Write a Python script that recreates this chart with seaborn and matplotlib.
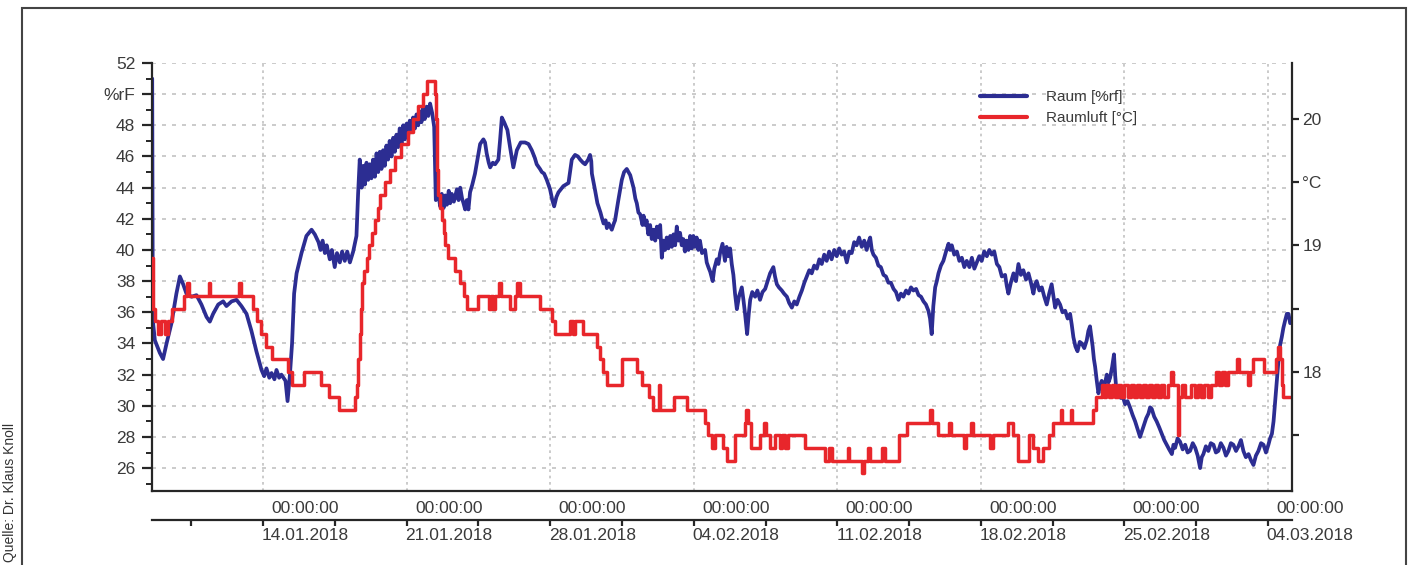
import pandas as pd
import matplotlib
matplotlib.use("Agg")
import matplotlib.pyplot as plt
import matplotlib.dates as mdates
from matplotlib.ticker import FixedLocator, FixedFormatter, MultipleLocator, NullFormatter
from matplotlib.transforms import ScaledTranslation
from matplotlib.patches import Rectangle
import seaborn as sns

# ---------------------------------------------------------------- data
ORIGIN = pd.Timestamp("2018-01-14 00:00")   # day offsets below are relative to this

rh_days = [
    -5.41, -5.38, -5.28, -5.04, -4.88, -4.71, -4.47, -4.23, -4.06, -3.90, -3.74, -3.49, -3.25,
    -3.01, -2.76, -2.60, -2.44, -2.19, -1.95, -1.79, -1.54, -1.30, -1.06, -0.81, -0.57, -0.33,
    -0.08, 0.05, 0.16, 0.30, 0.41, 0.55, 0.65, 0.78, 0.89, 1.09, 1.19, 1.30, 1.41, 1.51, 1.63,
    1.87, 2.11, 2.36, 2.52, 2.70, 2.80, 2.90, 3.01, 3.10, 3.25, 3.35, 3.49, 3.60, 3.74, 3.85,
    3.98, 4.10, 4.23, 4.39, 4.55, 4.63, 4.71, 4.80, 4.88, 4.96, 5.04, 5.12, 5.20, 5.28, 5.36,
    5.45, 5.53, 5.61, 5.69, 5.77, 5.85, 5.93, 6.01, 6.09, 6.17, 6.26, 6.34, 6.42, 6.50, 6.58,
    6.66, 6.75, 6.83, 6.91, 6.99, 7.07, 7.15, 7.23, 7.31, 7.40, 7.48, 7.56, 7.64, 7.72, 7.80,
    7.88, 7.97, 8.05, 8.14, 8.24, 8.34, 8.42,
    8.55, 8.63, 8.71, 8.80, 8.88, 8.96, 9.05, 9.12, 9.20, 9.30, 9.45, 9.53, 9.61, 9.70, 9.77,
    9.85, 9.93, 10.01, 10.09, 10.20, 10.33, 10.45, 10.58, 10.74, 10.82, 10.90, 11.00, 11.07,
    11.20, 11.31, 11.47, 11.55, 11.64, 11.75, 11.91, 12.04, 12.20, 12.37, 12.56, 12.77, 12.94,
    13.10, 13.25, 13.34, 13.50, 13.59, 13.70, 13.83, 13.99, 14.10, 14.19, 14.30, 14.40, 14.52,
    14.64, 14.89, 15.05, 15.21, 15.35, 15.46, 15.60, 15.70, 15.85, 15.94, 16.00, 16.03, 16.19,
    16.30, 16.35, 16.45, 16.51, 16.60, 16.70, 16.76, 16.85, 17.00, 17.10, 17.16, 17.32, 17.49,
    17.60, 17.73, 17.90, 18.06, 18.15, 18.22, 18.30, 18.38, 18.50, 18.55, 18.63, 18.70, 18.78,
    18.87, 18.95, 19.04, 19.12, 19.20, 19.30, 19.36, 19.44, 19.52, 19.60, 19.68, 19.76, 19.85,
    19.93, 20.01, 20.09, 20.17, 20.25, 20.33, 20.41, 20.49, 20.57, 20.65, 20.74, 20.82, 20.90,
    20.98, 21.06, 21.14, 21.22, 21.30, 21.40, 21.55, 21.63, 21.71, 21.80, 21.92, 22.00, 22.12,
    22.20, 22.28,
    22.40, 22.52, 22.60, 22.69, 22.77, 22.85, 22.93, 23.01, 23.10, 23.20, 23.34, 23.42, 23.50,
    23.60, 23.68, 23.75, 23.85, 23.99, 24.10, 24.23, 24.35, 24.48, 24.60, 24.72, 24.88, 24.96,
    25.05, 25.15, 25.29, 25.40, 25.54, 25.65, 25.78, 25.90, 26.02, 26.15, 26.27, 26.39, 26.51,
    26.63, 26.75, 26.87, 27.00, 27.12, 27.24, 27.36, 27.48, 27.60, 27.72, 27.85, 27.97, 28.09,
    28.21, 28.33, 28.46, 28.58, 28.70, 28.82, 28.94, 29.06, 29.19, 29.31, 29.43, 29.52, 29.60,
    29.68, 29.76, 29.88, 30.00, 30.12, 30.25, 30.37, 30.49, 30.61, 30.74, 30.86, 30.98, 31.10,
    31.22, 31.35, 31.47, 31.59, 31.71, 31.84, 31.96, 32.08, 32.20, 32.32, 32.44, 32.52, 32.60,
    32.68, 32.77, 32.85, 32.93, 33.05, 33.17, 33.30, 33.42, 33.50, 33.58, 33.70, 33.83, 33.95,
    34.07, 34.19, 34.31, 34.44, 34.56, 34.68, 34.80, 34.92, 35.04, 35.16, 35.29, 35.41, 35.53,
    35.65, 35.78, 35.90, 36.02,
    36.18, 36.26, 36.34, 36.46, 36.59, 36.71, 36.83, 36.95, 37.07, 37.20, 37.32, 37.44, 37.56,
    37.64, 37.72, 37.85, 37.97, 38.09, 38.21, 38.33, 38.45, 38.54, 38.62, 38.74, 38.86, 38.98,
    39.11, 39.23, 39.35, 39.43, 39.51, 39.61, 39.71, 39.82, 39.92, 40.04, 40.16, 40.24, 40.32,
    40.40, 40.45, 40.51, 40.57, 40.65, 40.73, 40.81, 40.89, 41.01, 41.14, 41.22, 41.30, 41.40,
    41.49, 41.55, 41.62, 41.72, 41.82, 41.92, 42.03, 42.15, 42.27, 42.40, 42.52, 42.64, 42.76,
    42.86, 42.96, 43.06, 43.17, 43.25, 43.33, 43.45, 43.57, 43.70, 43.82, 43.94, 44.06, 44.18,
    44.31, 44.39, 44.47, 44.59, 44.71, 44.84, 44.96, 45.08, 45.20, 45.33, 45.45, 45.57, 45.69,
    45.77, 45.85, 45.97, 46.09, 46.21, 46.34, 46.46, 46.58, 46.70, 46.83, 46.95, 47.07, 47.19,
    47.31, 47.44, 47.56, 47.68, 47.80, 47.92, 48.05, 48.17, 48.29, 48.41, 48.53, 48.66, 48.78,
    48.90, 49.02, 49.10, 49.19, 49.27, 49.35, 49.43, 49.51, 49.59, 49.67, 49.75, 49.84, 49.92,
    50.00, 50.08,
]
rh_values = [
    51.0, 35.5, 34.2, 33.4, 33.0, 34.0, 35.3, 37.2, 38.3, 37.8, 37.2, 37.0, 37.1,
    36.5, 35.7, 35.4, 35.9, 36.5, 36.7, 36.4, 36.7, 36.8, 36.4, 35.9, 34.8, 33.5,
    32.3, 31.9, 32.4, 31.8, 32.1, 31.7, 32.3, 31.8, 32.0, 31.6, 30.3, 31.9, 34.0, 37.2, 38.5,
    39.8, 40.9, 41.3, 41.0, 40.5, 40.0, 40.6, 39.8, 40.3, 39.4, 40.0, 38.9, 39.8, 39.2, 39.9,
    39.3, 39.9, 39.2, 39.9, 40.9, 43.6, 45.8, 44.0, 45.4, 44.2, 45.6, 44.5, 45.5, 44.6, 45.8,
    44.7, 46.2, 45.0, 46.3, 45.2, 46.4, 45.4, 46.7, 45.8, 47.0, 46.0, 47.2, 46.3, 47.4, 46.6,
    47.8, 46.8, 48.0, 47.1, 48.1, 47.3, 48.3, 47.6, 48.5, 47.8, 48.7, 48.0, 48.9, 48.2, 49.1,
    48.4, 49.2, 48.6, 49.4, 48.8, 47.9, 43.2,
    43.6, 42.8, 43.6, 42.7, 43.5, 42.9, 43.8, 43.0, 43.6, 43.1, 43.9, 43.2, 44.0, 43.3, 43.0,
    42.6, 43.2, 42.6, 43.7, 44.2, 44.9, 45.8, 46.8, 47.1, 46.9, 46.2, 45.6, 45.3,
    45.6, 45.5, 45.8, 47.0, 48.5, 48.2, 47.7, 46.6, 45.3, 46.4, 46.9, 46.9, 46.8,
    46.4, 45.9, 45.5, 45.2, 45.0, 44.9, 44.5, 43.9, 43.2, 42.8, 43.4, 43.7, 43.9,
    44.1, 44.3, 45.8, 46.1, 46.0, 45.8, 45.6, 45.5, 45.8, 46.1, 45.7, 44.9, 43.8,
    43.0, 42.8, 42.4, 42.1, 41.7, 41.9, 41.4, 41.7, 41.3, 41.7, 41.9, 43.2, 44.5,
    45.0, 45.2, 44.8, 44.0, 43.3, 43.0, 42.4, 42.3, 41.6, 42.2, 41.6, 41.9, 41.0,
    41.6, 40.7, 41.3, 40.6, 41.5, 40.8, 41.6, 39.5, 40.6, 40.0, 40.8, 40.1, 40.9,
    40.2, 41.0, 40.3, 41.5, 40.6, 41.1, 40.3, 40.7, 39.9, 40.6, 40.0, 40.9, 40.1,
    40.9, 40.2, 40.8, 40.0, 40.6, 39.8, 40.0, 39.2, 38.9, 38.6, 38.0, 38.8, 39.4,
    39.1, 39.8,
    40.4, 39.3, 40.2, 39.6, 40.1, 39.1, 38.4, 37.2, 36.2, 37.0, 37.6, 36.8, 35.9,
    34.6, 35.9, 36.8, 37.3, 37.0, 37.4, 36.8, 37.3, 37.5, 38.0, 38.5, 38.9, 38.3,
    37.8, 37.6, 37.4, 37.2, 37.0, 36.6, 36.3, 36.7, 36.5, 37.0, 37.4, 37.9, 38.3,
    38.7, 38.5, 39.0, 38.8, 39.4, 39.1, 39.7, 39.3, 39.9, 39.4, 40.0, 39.6, 40.1,
    39.7, 39.9, 39.2, 39.9, 39.8, 40.5, 40.3, 40.8, 40.2, 40.6, 40.0, 40.5, 40.8,
    40.0, 39.7, 39.5, 39.0, 38.9, 38.4, 38.3, 37.9, 37.9, 37.5, 37.3, 36.8, 37.2,
    37.0, 37.4, 37.2, 37.6, 37.4, 37.5, 37.1, 37.0, 36.7, 36.5, 36.1, 35.6, 34.6,
    36.4, 37.6, 38.0, 38.5, 39.0, 39.3, 39.9, 40.4, 40.0, 40.3, 39.7, 39.9, 39.3,
    39.5, 38.9, 39.3, 38.9, 39.5, 38.8, 39.2, 39.6, 39.3, 39.9, 39.6, 40.0, 39.7,
    39.9, 39.1, 38.9, 38.3,
    38.4, 37.7, 37.2, 37.9, 38.5, 38.0, 39.1, 38.4, 38.7, 38.1, 38.5, 37.9, 37.2,
    37.8, 38.0, 37.4, 37.6, 37.0, 36.5, 37.2, 37.8, 37.0, 36.3, 36.8, 36.5, 36.0,
    36.1, 35.6, 35.9, 35.2, 34.4, 33.8, 33.5, 34.1, 34.0, 33.7, 34.2, 34.8, 35.1,
    34.3, 33.8, 33.0, 32.5, 31.6, 30.8, 31.3, 31.6, 31.2, 32.0, 31.5, 31.8, 32.5,
    33.3, 31.9, 30.8, 30.9, 30.5, 30.6, 30.1, 30.3, 29.9, 29.4, 29.0, 28.5, 28.0,
    28.4, 28.8, 29.2, 29.5, 29.9, 29.8, 29.3, 29.0, 28.6, 28.2, 27.8, 27.5, 27.2,
    26.9, 27.5, 27.3, 27.9, 27.7, 27.2, 27.5, 27.0, 27.1, 27.6, 27.3, 26.8, 26.0,
    26.7, 26.9, 27.4, 27.1, 27.6, 27.5, 27.0, 27.1, 27.6, 27.3, 26.8, 27.1, 27.6,
    27.5, 27.1, 27.4, 27.8, 27.1, 26.7, 26.9, 26.5, 26.2, 26.8, 27.1, 27.6, 27.5,
    27.0, 27.5, 27.9, 28.2, 29.0, 30.3, 31.6, 32.9, 33.9, 34.4, 35.0, 35.5, 35.9,
    35.9, 35.3,
]

# room air temperature, logged in 0.1 degree steps (value holds until next entry)
temp_days = [
    -5.41, -5.36, -5.28, -5.12, -4.96, -4.80, -4.63, -4.45, -3.85, -3.72, -3.60, -2.66, -2.58,
    -1.16, -1.08, -0.49, -0.32, -0.12, 0.12, 0.45, 1.20, 1.40, 2.00, 2.80, 3.20, 3.70, 4.50,
    4.58, 4.64, 4.70, 4.76, 4.84, 4.92, 5.05, 5.15, 5.30, 5.44, 5.58, 5.70, 5.93, 6.18, 6.42,
    6.74, 7.07, 7.31, 7.56, 7.80, 8.00, 8.40, 8.44, 8.47, 8.50, 8.55, 8.62, 8.71, 8.80, 8.87,
    9.03, 9.36, 9.61, 9.77, 9.93, 10.50, 11.00, 11.10, 11.20, 11.30, 11.52, 11.62, 12.04,
    12.29, 12.40, 12.52, 13.51, 14.07, 14.24, 14.97, 15.10, 15.20, 15.62, 16.27, 16.43,
    16.59, 16.76, 17.49, 18.22, 18.45, 18.80, 19.00, 19.30, 19.36, 20.01, 20.66, 21.55,
    21.71, 21.90, 22.05, 22.44, 22.60, 23.01, 23.50, 23.56, 23.62, 23.78, 24.25, 24.40,
    24.50, 24.70, 24.95, 25.20, 25.30, 25.45, 25.60, 26.43, 27.41, 27.60, 27.75, 28.50,
    28.58, 29.20, 29.32, 29.50, 29.58, 30.20, 30.30, 31.00, 31.40, 32.50, 32.62, 32.93,
    33.45, 33.55, 34.20, 34.28, 34.52, 34.62, 35.45, 35.60, 36.30, 36.55, 36.80, 37.35,
    37.55, 37.80, 38.05, 38.30, 38.50, 38.90, 38.96, 39.40, 39.46, 40.45, 40.60, 40.90,
    41.00, 41.10, 41.25, 41.40, 41.55, 41.70, 41.85, 42.00, 42.15, 42.30, 42.45, 42.60,
    42.75, 42.90, 43.05, 43.20, 43.35, 43.50, 43.65, 43.80, 43.95, 44.10, 44.28, 44.36,
    44.60, 44.66, 44.80, 44.95, 45.25, 45.45, 45.60, 45.75, 45.90, 46.05, 46.20, 46.45,
    46.60, 46.75, 46.90, 47.05, 47.50, 47.60, 48.02, 48.10, 48.25, 48.80, 49.40, 49.48,
    49.58, 49.66, 49.74, 50.08,
]
temp_values = [
    18.9, 18.5, 18.4, 18.3, 18.4, 18.3, 18.4, 18.5, 18.6, 18.7, 18.6, 18.7, 18.6,
    18.7, 18.6, 18.5, 18.4, 18.3, 18.2, 18.1, 18.0, 17.9, 18.0, 17.9, 17.8, 17.7, 17.8,
    17.9, 18.1, 18.3, 18.5, 18.7, 18.8, 18.9, 19.0, 19.1, 19.2, 19.3, 19.4, 19.5, 19.6, 19.7,
    19.8, 19.9, 20.0, 20.1, 20.2, 20.3, 20.2, 20.0, 19.8, 19.6, 19.4, 19.3, 19.2, 19.1, 19.0,
    18.9, 18.8, 18.7, 18.6, 18.5, 18.6, 18.5, 18.6, 18.5, 18.6, 18.7, 18.6, 18.5,
    18.6, 18.7, 18.6, 18.5, 18.4, 18.3, 18.4, 18.3, 18.4, 18.3, 18.2, 18.1,
    18.0, 17.9, 18.1, 18.0, 17.9, 17.8, 17.7, 17.9, 17.7, 17.8, 17.7, 17.6,
    17.5, 17.4, 17.5, 17.4, 17.3, 17.5, 17.6, 17.7, 17.6, 17.4, 17.5, 17.6,
    17.5, 17.4, 17.5, 17.4, 17.5, 17.4, 17.5, 17.4, 17.3, 17.4, 17.3, 17.4,
    17.3, 17.2, 17.3, 17.4, 17.3, 17.4, 17.3, 17.5, 17.6, 17.7, 17.6, 17.5,
    17.6, 17.5, 17.4, 17.5, 17.6, 17.5, 17.4, 17.5, 17.6, 17.5, 17.3, 17.5,
    17.4, 17.3, 17.4, 17.5, 17.6, 17.7, 17.6, 17.7, 17.6, 17.7, 17.8, 17.9,
    17.8, 17.9, 17.8, 17.9, 17.8, 17.9, 17.8, 17.9, 17.8, 17.9, 17.8, 17.9,
    17.8, 17.9, 17.8, 17.9, 17.8, 17.9, 17.8, 17.9, 17.8, 17.9, 18.0, 17.9,
    17.5, 17.8, 17.9, 17.8, 17.9, 17.8, 17.9, 17.8, 17.9, 17.8, 17.9, 18.0,
    17.9, 18.0, 17.9, 18.0, 18.1, 18.0, 17.9, 18.0, 18.1, 18.0, 18.1, 18.2,
    18.1, 17.9, 17.8, 17.8,
]

series_labels = ["Raum [%rf]", "Raumluft [°C]"]

week_ticks = pd.date_range("2018-01-14", "2018-03-04", freq="7D")
half_week_ticks = pd.date_range("2018-01-10 12:00", "2018-03-01 12:00", freq="7D")
time_labels = ["00:00:00"] * len(week_ticks)
date_labels = ["14.01.2018", "21.01.2018", "28.01.2018", "04.02.2018",
               "11.02.2018", "18.02.2018", "25.02.2018", "04.03.2018"]

rh_ticks = [26, 28, 30, 32, 34, 36, 38, 40, 42, 44, 46, 48, 50, 52]
rh_tick_labels = ["26", "28", "30", "32", "34", "36", "38", "40", "42", "44", "46", "48", "%rF", "52"]
temp_ticks = [17.5, 18.0, 18.5, 19.0, 19.5, 20.0]
temp_tick_labels = ["", "18", "", "19", "°C", "20"]

# ---------------------------------------------------------------- frames
rh = pd.DataFrame({"time": ORIGIN + pd.to_timedelta(rh_days, unit="D"), "rh": rh_values})
temp = pd.DataFrame({"time": ORIGIN + pd.to_timedelta(temp_days, unit="D"), "temp": temp_values})

# ---------------------------------------------------------------- style
sns.set_theme(style="white")
plt.rcParams["font.family"] = ["Liberation Sans", "DejaVu Sans"]

BLUE = "#2c2d92"
RED = "#e8262b"
INK = "#262626"
TXT = "#3a3a3a"
GRID = "#c2c2c2"

W, H = 1411, 565
fig = plt.figure(figsize=(W / 100, H / 100), dpi=100)
fig.patch.set_facecolor("white")
ax = fig.add_axes([152 / W, 1 - 491 / H, (1292 - 152) / W, (491 - 63) / H])
ax2 = ax.twinx()

sns.lineplot(data=rh, x="time", y="rh", ax=ax, color=BLUE, linewidth=2.7,
             estimator=None, sort=False, legend=False)
sns.lineplot(data=temp, x="time", y="temp", ax=ax2, color=RED, linewidth=2.5,
             estimator=None, sort=False, legend=False, drawstyle="steps-post")

for a in (ax, ax2):
    a.set_xlabel("")
    a.set_ylabel("")

ax.set_xlim(ORIGIN + pd.Timedelta(days=-5.42), ORIGIN + pd.Timedelta(days=50.17))
ax.set_ylim(24.53, 52.0)
ax2.set_ylim(17.06, 20.442)

# spines
ax.spines["top"].set_visible(False)
ax.spines["right"].set_visible(False)
for s in ("top", "left", "bottom"):
    ax2.spines[s].set_visible(False)
for s in ("left", "bottom"):
    ax.spines[s].set_color(INK)
    ax.spines[s].set_linewidth(1.6)
ax2.spines["right"].set_color(INK)
ax2.spines["right"].set_linewidth(1.6)

# x axis: time row on the main axis, date row on a second line below
ax.xaxis.set_major_locator(FixedLocator(mdates.date2num(week_ticks)))
ax.xaxis.set_major_formatter(FixedFormatter(time_labels))
ax.xaxis.set_minor_locator(FixedLocator(mdates.date2num(half_week_ticks)))
ax.xaxis.set_minor_formatter(NullFormatter())
ax.tick_params(axis="x", which="major", direction="out", length=6, width=1.6, color=INK,
               pad=1.5, labelsize=12.5, labelcolor=TXT)
ax.tick_params(axis="x", which="minor", direction="out", length=4, width=1.6, color=INK)

sec = ax.secondary_xaxis(-29 / 428)
sec.xaxis.set_major_locator(FixedLocator(mdates.date2num(week_ticks)))
sec.xaxis.set_major_formatter(FixedFormatter(date_labels))
sec.xaxis.set_minor_locator(FixedLocator(mdates.date2num(half_week_ticks)))
sec.xaxis.set_minor_formatter(NullFormatter())
sec.spines["bottom"].set_color(INK)
sec.spines["bottom"].set_linewidth(1.6)
sec.tick_params(axis="x", which="major", direction="out", length=4, width=1.6, color=INK,
                pad=1.5, labelsize=12.5, labelcolor=TXT)
sec.tick_params(axis="x", which="minor", direction="out", length=4, width=1.6, color=INK)

shift = ScaledTranslation(0.42, 0, fig.dpi_scale_trans)
for lab in list(ax.xaxis.get_ticklabels()) + list(sec.xaxis.get_ticklabels()):
    lab.set_transform(lab.get_transform() + shift)

# left axis: humidity
ax.yaxis.set_major_locator(FixedLocator(rh_ticks))
ax.yaxis.set_major_formatter(FixedFormatter(rh_tick_labels))
ax.yaxis.set_minor_locator(MultipleLocator(1))
ax.tick_params(axis="y", which="major", direction="out", length=7, width=1.6, color=INK,
               pad=5, labelsize=12.5, labelcolor=TXT)
ax.tick_params(axis="y", which="minor", direction="out", length=4.5, width=1.4, color=INK)

# right axis: temperature
ax2.yaxis.set_major_locator(FixedLocator(temp_ticks))
ax2.yaxis.set_major_formatter(FixedFormatter(temp_tick_labels))
ax2.tick_params(axis="y", which="major", direction="out", length=5, width=1.6, color=INK,
                pad=2.5, labelsize=12.5, labelcolor=TXT)

# grid
ax.set_axisbelow(True)
ax.yaxis.grid(True, which="major", color=GRID, linestyle=(0, (2.4, 3.6)), linewidth=1.2)
ax.xaxis.grid(True, which="major", color=GRID, linestyle=(0, (1.6, 2.2)), linewidth=1.2)

# legend
handles = [ax.get_lines()[0], ax2.get_lines()[0]]
leg = ax2.legend(handles, series_labels, loc="upper left",
                 bbox_to_anchor=(980 / W, 1 - 90 / H), bbox_transform=fig.transFigure,
                 frameon=False, fontsize=11, handlelength=3.1, handletextpad=1.25,
                 labelspacing=0.45, borderpad=0, borderaxespad=0)
for t in leg.get_texts():
    t.set_color(TXT)
for l in leg.get_lines():
    l.set_linewidth(3)

# outer frame and credit line
fig.add_artist(Rectangle((22 / W, -0.05), (1406 - 22) / W, 1.05 - 8 / H,
                         transform=fig.transFigure, fill=False, lw=1.5, ec="#444444"))
fig.text(10 / W, 1 - 562 / H, "Quelle: Dr. Klaus Knoll", rotation=90, ha="center",
         va="bottom", fontsize=10, color="#333333")

fig.savefig("out.png", dpi=100, facecolor="white")
